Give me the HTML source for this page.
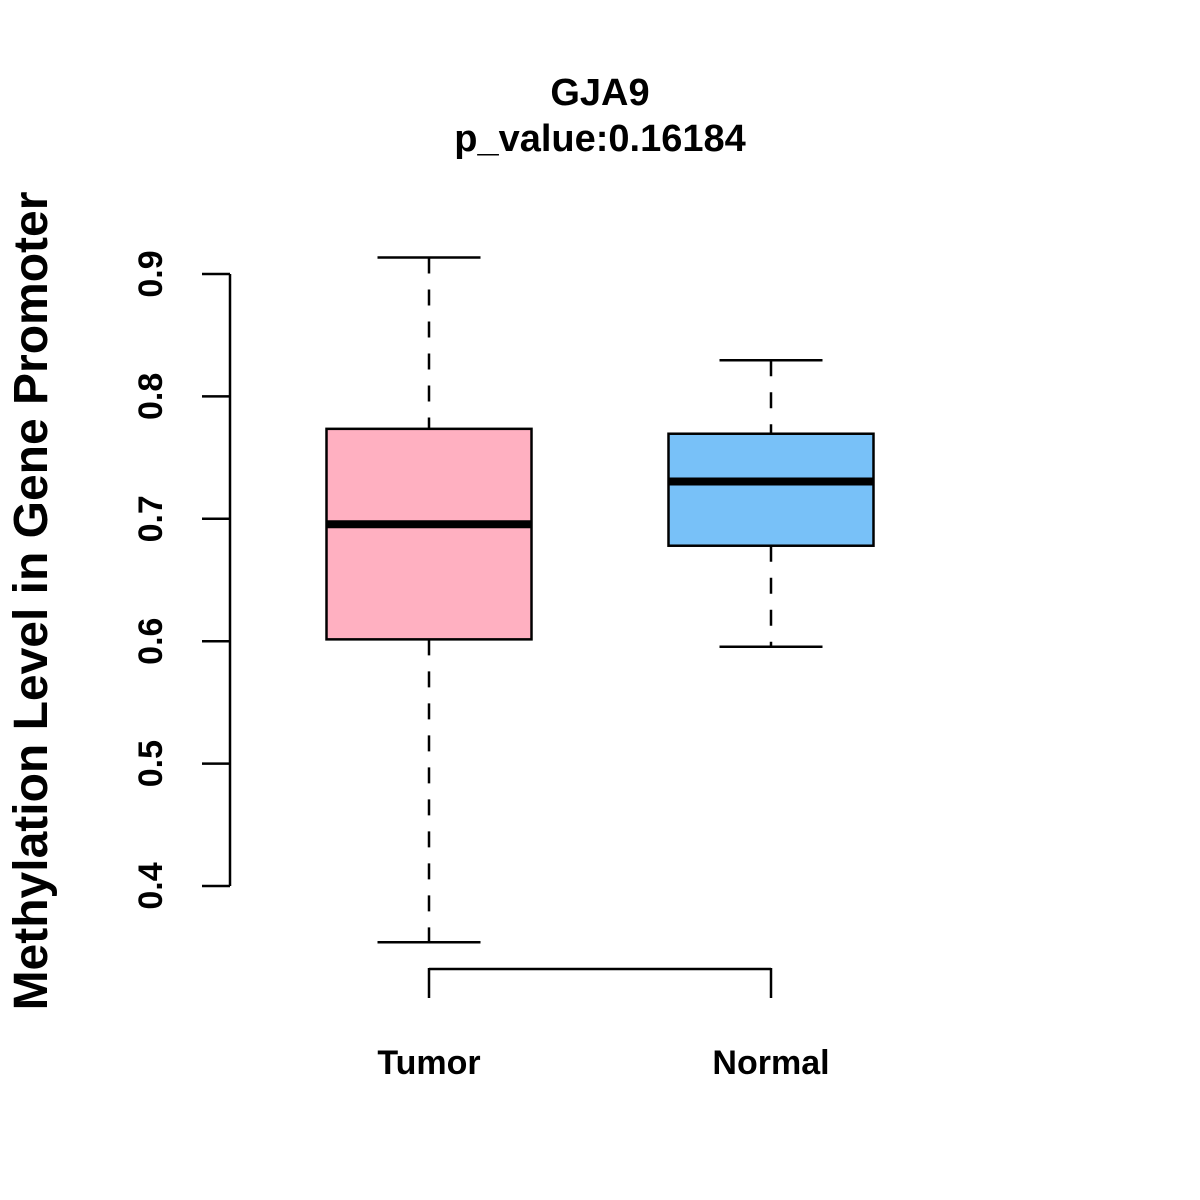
<!DOCTYPE html>
<html><head><meta charset="utf-8"><style>body{margin:0;background:#fff}svg{display:block}text{font-family:"Liberation Sans",Arial,sans-serif;font-weight:bold;fill:#000}</style></head>
<body>
<svg id="chart" width="1200" height="1200" viewBox="0 0 1200 1200" xmlns="http://www.w3.org/2000/svg">
<text x="600" y="105" font-size="38" text-anchor="middle">GJA9</text>
<text x="600" y="151" font-size="38" text-anchor="middle">p_value:0.16184</text>
<text transform="translate(47,601) rotate(-90)" font-size="48" text-anchor="middle">Methylation Level in Gene Promoter</text>
<g id="axes"></g>
<g id="boxes"></g>
</svg>
<script>
const categories = ["Tumor", "Normal"];
const whiskerLow = [0.354, 0.5955];
const q1 = [0.6015, 0.678];
const median = [0.6955, 0.7305];
const q3 = [0.7735, 0.7695];
const whiskerHigh = [0.9135, 0.8295];
const colors = ["#FFB0C1", "#78C1F8"];
const yTicks = [0.4, 0.5, 0.6, 0.7, 0.8, 0.9];
const yTickLabels = ["0.4", "0.5", "0.6", "0.7", "0.8", "0.9"];

const NS = "http://www.w3.org/2000/svg";
function y(v){ return 886 - (v - 0.4) * 1224; }
function x(i){ return 429 + i * 342; }
function mk(tag, attrs, parent){ const e=document.createElementNS(NS,tag); for(const k in attrs) e.setAttribute(k,attrs[k]); parent.appendChild(e); return e; }
const axes=document.getElementById('axes'), boxes=document.getElementById('boxes');

let l=mk('line',{x1:230,x2:230,y1:y(yTicks[0]),y2:y(yTicks[yTicks.length-1]),stroke:'#000','stroke-width':2.5},axes);


yTicks.forEach((t,i)=>{
  let tk=mk('line',{x1:202,x2:230,y1:y(t),y2:y(t),stroke:'#000','stroke-width':2.5},axes);
  
  
  let tx=mk('text',{transform:`translate(162,${y(t)}) rotate(-90)`,'font-size':34,'text-anchor':'middle'},axes);
  tx.textContent=yTickLabels[i];
  
  
});
let xl=mk('line',{x1:x(0),x2:x(categories.length-1),y1:969,y2:969,stroke:'#000','stroke-width':2.5},axes);


categories.forEach((c,i)=>{
  let tk=mk('line',{x1:x(i),x2:x(i),y1:968,y2:998,stroke:'#000','stroke-width':2.5},axes);
  
  
  let tx=mk('text',{x:x(i),y:1074,'font-size':34,'text-anchor':'middle'},axes);
  tx.textContent=c;
  
  

  const cx=x(i);
  let w1=mk('line',{x1:cx,x2:cx,y1:y(whiskerHigh[i]),y2:y(q3[i]),stroke:'#000','stroke-width':2.5,'stroke-dasharray':'16,16'},boxes);
  
  
  let w2=mk('line',{x1:cx,x2:cx,y1:y(q1[i]),y2:y(whiskerLow[i]),stroke:'#000','stroke-width':2.5,'stroke-dasharray':'16,16'},boxes);
  
  
  let c1=mk('line',{x1:cx-51.5,x2:cx+51.5,y1:y(whiskerHigh[i]),y2:y(whiskerHigh[i]),stroke:'#000','stroke-width':2.5},boxes);
  
  
  let c2=mk('line',{x1:cx-51.5,x2:cx+51.5,y1:y(whiskerLow[i]),y2:y(whiskerLow[i]),stroke:'#000','stroke-width':2.5},boxes);
  
  
  let b=mk('rect',{x:cx-102.5,y:y(q3[i]),width:205,height:y(q1[i])-y(q3[i]),fill:colors[i],stroke:'#000','stroke-width':2.5},boxes);
  
  
  let m=mk('line',{x1:cx-102.5,x2:cx+102.5,y1:y(median[i]),y2:y(median[i]),stroke:'#000','stroke-width':8},boxes);
  
  
});
</script>
</body></html>
